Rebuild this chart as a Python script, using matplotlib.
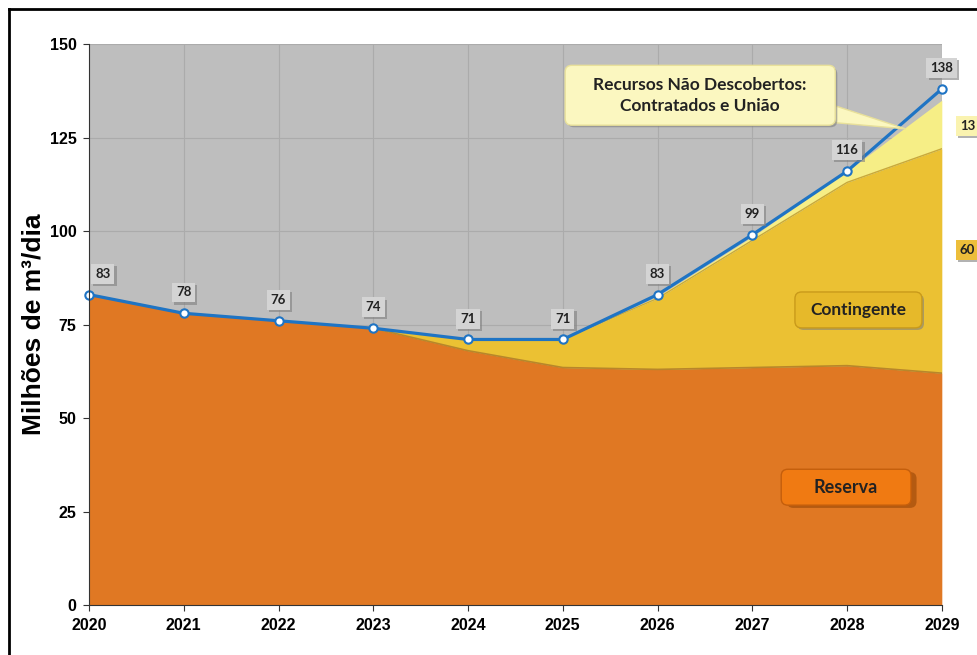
import numpy as np
import matplotlib.pyplot as plt
from matplotlib.patches import FancyBboxPatch, Polygon
from matplotlib.lines import Line2D
import matplotlib.patheffects as pe

# ---------------
# --- 1. DATA ---
# ---------------
anos = [2020, 2021, 2022, 2023, 2024, 2025, 2026, 2027, 2028, 2029]
reserva = [83, 78, 76, 74, 68, 63.5, 63, 63.5, 64, 62]
contingente = [0, 0, 0, 0, 3, 7.5, 19, 34, 49, 60]
nao_descobertos = [0, 0, 0, 0, 0, 0, 0.5, 1, 3, 13]
total = [83, 78, 76, 74, 71, 71, 83, 99, 116, 138]
rotulos_direita = [("13", 128, "#FAF3B0"), ("60", 95, "#EDBE3A")]

ORANGE = "#E07823"
GOLD = "#EBC133"
LIGHT_YELLOW = "#F6EE86"
BLUE = "#1F74C4"
GRAY_BG = "#BEBEBE"
CALIBRI = ["Lato", "DejaVu Sans"]

plt.rcParams["font.family"] = ["Liberation Sans", "DejaVu Sans"]

fig = plt.figure(figsize=(9.78, 6.55), dpi=100)
ax = fig.add_axes([0.091, 0.0763, 0.872, 0.8565])

# --- frame round the picture (left and top edges show) ---
fig.add_artist(Line2D([0.0095, 0.0095], [0, 0.986], transform=fig.transFigure,
                      color="black", linewidth=2))
fig.add_artist(Line2D([0.0095, 1], [0.986, 0.986], transform=fig.transFigure,
                      color="black", linewidth=2))

# -------------------------
# --- 2. STACKED AREAS ---
# -------------------------
ax.set_facecolor(GRAY_BG)
x = np.array(anos)
r = np.array(reserva)
c = r + np.array(contingente)
n = c + np.array(nao_descobertos)

ax.fill_between(x, 0, r, color=ORANGE, zorder=2, linewidth=0)
ax.fill_between(x, r, c, color=GOLD, zorder=2, linewidth=0)
ax.fill_between(x, c, n, color=LIGHT_YELLOW, zorder=2, linewidth=0)
ax.plot(x, r, color="#B8862A", linewidth=1.2, zorder=3)
ax.plot(x, c, color="#C9A93A", linewidth=1.0, zorder=3)

# total line
ax.plot(x, total, color=BLUE, linewidth=2.3, marker="o", markersize=6,
        markerfacecolor="white", markeredgecolor=BLUE, markeredgewidth=1.5,
        zorder=5, clip_on=False)

shadow = [pe.withSimplePatchShadow(offset=(1.5, -1.5), shadow_rgbFace="#808080", alpha=0.6)]

for xi, yi in zip(anos, total):
    dx = 10 if xi == anos[0] else 0
    t = ax.annotate(str(yi), (xi, yi), xytext=(dx, 15), textcoords="offset points",
                    ha="center", va="center", fontsize=9.5, fontweight="bold",
                    family=CALIBRI, color="#222222", zorder=6,
                    bbox=dict(boxstyle="square,pad=0.3", facecolor="#D4D4D4",
                              edgecolor="none"))
    t.get_bbox_patch().set_path_effects(shadow)

# labels right of the plot
for txt, yv, cor in rotulos_direita:
    t = ax.text(2029.27, yv, txt, ha="center", va="center", fontsize=9.5,
                fontweight="bold", family=CALIBRI, color="#222222", clip_on=False,
                zorder=6, bbox=dict(boxstyle="square,pad=0.3", facecolor=cor,
                                    edgecolor="none"))
    t.get_bbox_patch().set_path_effects(shadow)

# ------------------------
# --- 3. CALLOUT BOXES ---
# ------------------------
# px per year / px per unit, so the rounding looks the same on both axes
ASPECT = 94.8 / 3.74


def caixa(cx, cy, w, h, texto, face, edge, fs, sombra):
    box = FancyBboxPatch((cx - w / 2, cy - h / 2), w, h,
                         boxstyle="round,pad=0,rounding_size=0.07",
                         mutation_aspect=ASPECT, facecolor=face, edgecolor=edge,
                         linewidth=1, zorder=7)
    box.set_path_effects(sombra)
    ax.add_patch(box)
    ax.text(cx, cy, texto, ha="center", va="center", fontsize=fs, fontweight="bold",
            family=CALIBRI, color="#222222", linespacing=1.4, zorder=8)


# pointer of the callout
ax.add_patch(Polygon([(2027.75, 134.5), (2027.86, 129.0), (2028.62, 127.3)],
                     closed=True, facecolor="#FBF7C0", edgecolor="#E8E09A",
                     linewidth=1, zorder=7))
caixa(2026.45, 136.3, 2.85, 16, "Recursos Não Descobertos:\nContratados e União",
      "#FBF7C0", "#E8E09A", 12.5, shadow)
caixa(2028.12, 78.9, 1.34, 9.6, "Contingente", "#E6B92A", "#C99A1A", 12.5, shadow)
caixa(2027.99, 31.5, 1.37, 9.6, "Reserva", "#F07A12", "#C45E0C", 13,
      [pe.withSimplePatchShadow(offset=(4, -2), shadow_rgbFace="#8A3E00", alpha=0.5)])

# -------------------
# --- 4. AXES ---
# -------------------
ax.set_xlim(2020, 2029)
ax.set_ylim(0, 150)
ax.set_xticks(anos)
ax.set_yticks([0, 25, 50, 75, 100, 125, 150])
ax.grid(True, color="#ABABAB", linewidth=0.8, zorder=1)
ax.set_axisbelow(True)
for s in ["top", "right"]:
    ax.spines[s].set_visible(False)
for s in ["left", "bottom"]:
    ax.spines[s].set_color("#333333")
    ax.spines[s].set_zorder(8)
ax.tick_params(axis="both", labelsize=11.5, length=4, color="#333333", pad=5)
for lbl in ax.get_xticklabels() + ax.get_yticklabels():
    lbl.set_fontweight("bold")
ax.set_ylabel("Milhões de m³/dia", fontsize=19, fontweight="bold", labelpad=3)

fig.savefig("out.png", dpi=100)
